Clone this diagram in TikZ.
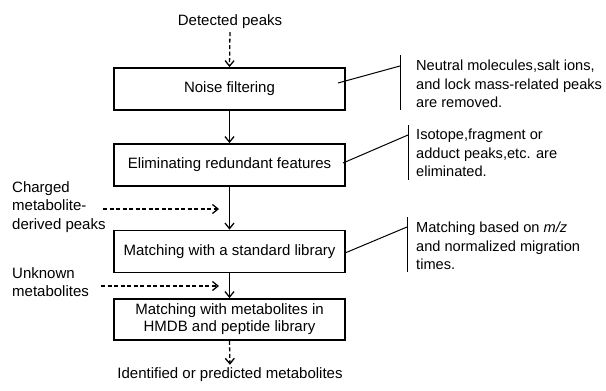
\documentclass[tikz,border=0pt]{standalone}
\usepackage{fontspec}
\setmainfont{Liberation Sans}
\usetikzlibrary{arrows.meta}
\begin{document}
\begin{tikzpicture}[x=1pt,y=-1pt,
  box/.style={draw,line width=1.8pt,minimum width=231pt,minimum height=42pt,inner sep=0pt,align=center,font=\fontsize{15}{17}\selectfont},
  txt/.style={inner sep=0pt,font=\fontsize{15}{18.5}\selectfont},
  ctxt/.style={inner sep=0pt,font=\fontsize{14.6}{18.5}\selectfont},
  flow/.style={line width=1.3pt,-{Straight Barb[length=5.5pt,width=9pt]}},
  dflow/.style={flow,dash pattern=on 4pt off 2.5pt},
  callout/.style={line width=1pt}]
\useasboundingbox (0,0) rectangle (606,391);
% boxes
\node[box] (b1) at (229.5,89) {Noise filtering};
\node[box] (b2) at (229.5,165) {Eliminating redundant features};
\node[box] (b3) at (229.5,251.5) {Matching with a standard library};
\node[box,minimum height=41pt] (b4) at (229.5,319.5) {Matching with metabolites in\\HMDB and peptide library};
% top / bottom texts
\node[txt] (top) at (230,22) {Detected peaks};
\node[txt] (bot) at (230,375) {Identified or predicted metabolites};
% flow arrows
\draw[dflow,shorten <=3pt] (top.south) -- (b1.north);
\draw[flow] (b1.south) -- (b2.north);
\draw[flow] (b2.south) -- (b3.north);
\draw[flow] (b3.south) -- (b4.north);
\draw[dflow,shorten >=3pt] (b4.south) -- (bot.north);
% left inputs
\node[txt,anchor=west,align=left] (charged) at (12,207) {Charged\\metabolite-\\derived peaks};
\coordinate (c1s) at (103,209);
\coordinate (c1e) at (219,209);
\draw[dflow] (c1s) -- (c1e);
\node[txt,anchor=west,align=left] (unk) at (12,282) {Unknown\\metabolites};
\coordinate (c2s) at (101,286);
\coordinate (c2e) at (219,286);
\draw[dflow] (c2s) -- (c2e);
% callout 1
\coordinate (v1t) at (400,55);
\coordinate (v1b) at (400,110);
\coordinate (v1m) at (400,66);
\coordinate (p1) at (338,83);
\draw[callout] (v1t) -- (v1b);
\draw[callout] (p1) -- (v1m);
\node[ctxt,anchor=west,align=left] (n1) at (416,84) {Neutral molecules,salt ions,\\and lock mass-related peaks\\are removed.};
% callout 2
\coordinate (v2t) at (408,125);
\coordinate (v2b) at (408,180);
\coordinate (v2m) at (408,135);
\coordinate (p2) at (343,163);
\draw[callout] (v2t) -- (v2b);
\draw[callout] (p2) -- (v2m);
\node[ctxt,anchor=west,align=left] (n2) at (416,153) {Isotope,fragment or\\adduct peaks,etc. are\\eliminated.};
% callout 3
\coordinate (v3t) at (407,217);
\coordinate (v3b) at (407,272);
\coordinate (v3m) at (407,227);
\coordinate (p3) at (345,253);
\draw[callout] (v3t) -- (v3b);
\draw[callout] (p3) -- (v3m);
\node[ctxt,anchor=west,align=left] (n3) at (416,246) {Matching based on \textit{m/z}\\and normalized migration\\times.};
\end{tikzpicture}
\end{document}
